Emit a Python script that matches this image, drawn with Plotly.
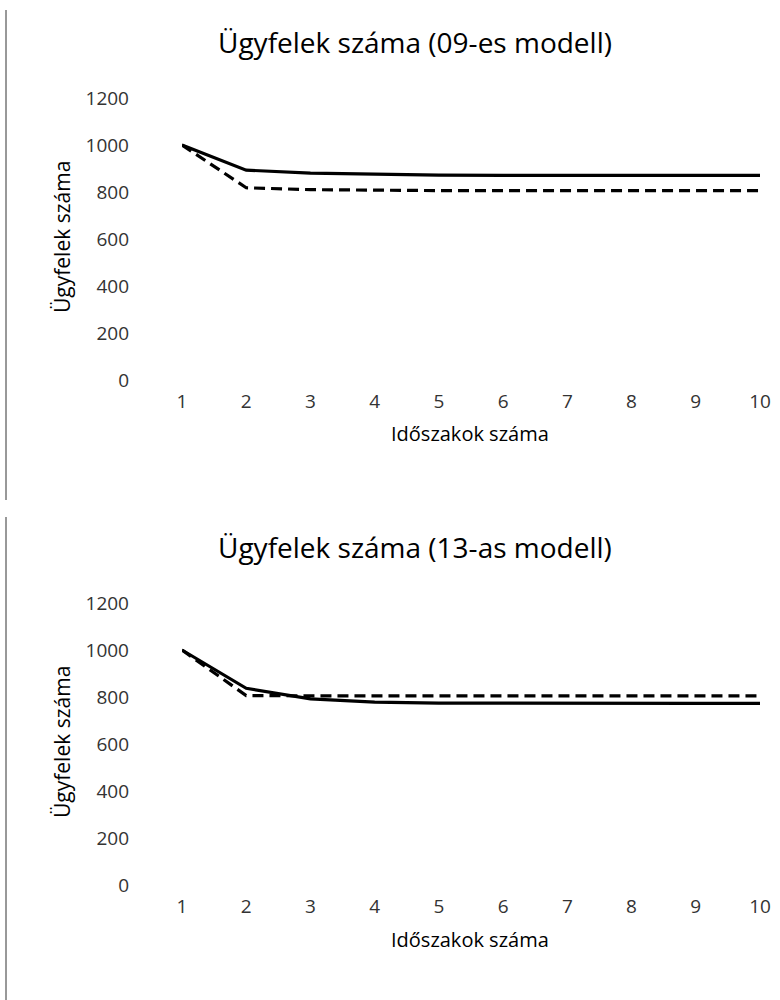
import plotly.graph_objects as go

# ---- data ----
periods = [1, 2, 3, 4, 5, 6, 7, 8, 9, 10]
m09_solid = [1000, 893, 880, 875, 872, 871, 871, 871, 871, 871]
m09_dashed = [1000, 818, 810, 807, 806, 806, 806, 806, 806, 806]
m13_solid = [1000, 837, 792, 778, 774, 773, 773, 773, 773, 773]
m13_dashed = [1000, 806, 805, 805, 805, 805, 805, 805, 805, 805]
y_ticks = [0, 200, 400, 600, 800, 1000, 1200]
titles = ["Ügyfelek száma (09-es modell)", "Ügyfelek száma (13-as modell)"]
x_title = "Időszakok száma"
y_title = "Ügyfelek száma"

FONT = "Open Sans"
W, H = 780, 1000

fig = go.Figure()

solid_style = dict(color="black", width=3.2)
dash_style = dict(color="black", width=3.2, dash="11px,6px")

fig.add_trace(go.Scatter(x=periods, y=m09_solid, mode="lines", line=solid_style,
                         xaxis="x", yaxis="y", showlegend=False))
fig.add_trace(go.Scatter(x=periods, y=m09_dashed, mode="lines", line=dash_style,
                         xaxis="x", yaxis="y", showlegend=False))
fig.add_trace(go.Scatter(x=periods, y=m13_solid, mode="lines", line=solid_style,
                         xaxis="x2", yaxis="y2", showlegend=False))
fig.add_trace(go.Scatter(x=periods, y=m13_dashed, mode="lines", line=dash_style,
                         xaxis="x2", yaxis="y2", showlegend=False))

xdom = [182 / W, 760 / W]
# pixel positions (from top) of y=1200 and y=0 for each panel
panels = [(98, 380), (603, 885)]

tickfont = dict(family=FONT, size=19, color="#333")
common_x = dict(range=[1, 10], tickvals=periods, showgrid=False, zeroline=False,
                showline=False, ticks="", tickfont=tickfont, ticklabelstandoff=8,
                fixedrange=True, automargin=False)
common_y = dict(range=[0, 1200], tickvals=y_ticks, showgrid=False, zeroline=False,
                showline=False, ticks="", tickfont=tickfont, ticklabelstandoff=52,
                fixedrange=True, automargin=False)

ydom1 = [1 - panels[0][1] / H, 1 - panels[0][0] / H]
ydom2 = [1 - panels[1][1] / H, 1 - panels[1][0] / H]

annotations = []
shapes = []
for i, (ytop, ybot) in enumerate(panels):
    off = 0 if i == 0 else 505
    annotations.append(dict(text=titles[i], x=415 / W, y=1 - (42 + off) / H,
                            xref="paper", yref="paper", showarrow=False,
                            xanchor="center", yanchor="middle",
                            font=dict(family=FONT, size=28, color="black")))
    annotations.append(dict(text=x_title, x=470 / W, y=1 - (434 + off) / H,
                            xref="paper", yref="paper", showarrow=False,
                            xanchor="center", yanchor="middle",
                            font=dict(family=FONT, size=20, color="black")))
    annotations.append(dict(text=y_title, x=62 / W, y=1 - (237 + off) / H,
                            xref="paper", yref="paper", showarrow=False,
                            xanchor="center", yanchor="middle", textangle=-90,
                            font=dict(family=FONT, size=21, color="black")))

shapes.append(dict(type="line", xref="paper", yref="paper", x0=6 / W, x1=6 / W,
                   y0=1 - 10 / H, y1=1 - 500 / H, line=dict(color="#333", width=1)))
shapes.append(dict(type="line", xref="paper", yref="paper", x0=6 / W, x1=6 / W,
                   y0=1 - 517 / H, y1=0, line=dict(color="#333", width=1)))

fig.update_layout(
    template="none",
    width=W, height=H,
    margin=dict(l=0, r=0, t=0, b=0, autoexpand=False),
    paper_bgcolor="white", plot_bgcolor="white",
    xaxis=dict(domain=xdom, anchor="y", **common_x),
    yaxis=dict(domain=ydom1, anchor="x", **common_y),
    xaxis2=dict(domain=xdom, anchor="y2", **common_x),
    yaxis2=dict(domain=ydom2, anchor="x2", **common_y),
    annotations=annotations,
    shapes=shapes,
    showlegend=False,
    hovermode=False,
)

fig.write_html("out.html",
               config={"displayModeBar": False, "staticPlot": True},
               post_script="document.body.style.margin='0';document.body.style.overflow='hidden';")
